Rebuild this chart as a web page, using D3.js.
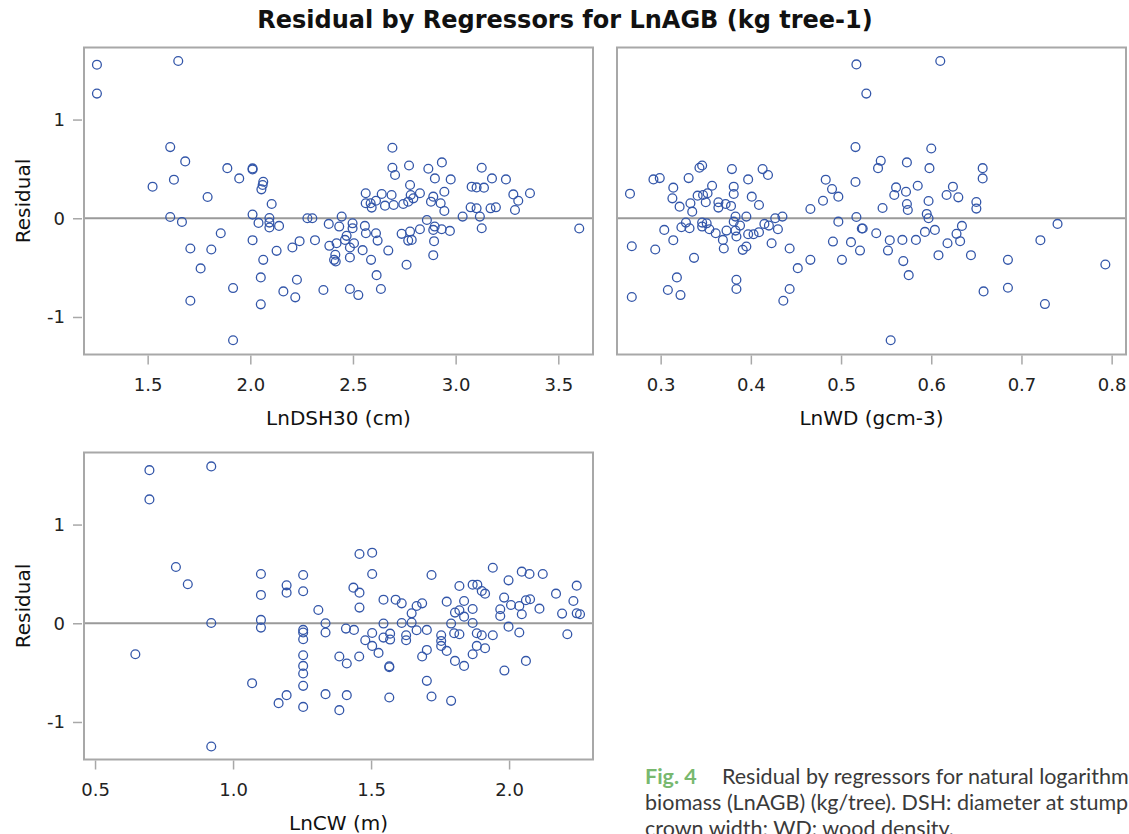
<!DOCTYPE html>
<html>
<head>
<meta charset="utf-8">
<script src="https://cdn.jsdelivr.net/npm/d3@7"></script>
<style>
  body { margin: 0; overflow: hidden; background: #fff; }
</style>
</head>
<body>
<div id="chart"></div>
<script>
// residual vs LnDSH30 (cm)
const dshPoints = [
  [1.253,1.556],[1.253,1.263],[1.649,1.593],[1.610,0.721],[1.683,0.576],[1.628,0.391],[1.524,0.320],
  [1.792,0.215],[1.610,0.013],[1.667,-0.037],[1.856,-0.152],[1.708,-0.306],[1.810,-0.316],[1.758,-0.508],
  [1.708,-0.835],[1.916,-0.707],[1.916,-1.236],[1.888,0.508],[1.946,0.404],[2.011,0.505],[2.011,0.495],
  [2.063,0.370],[2.060,0.337],[2.054,0.293],[2.104,0.145],[2.011,0.037],[2.040,-0.047],[2.093,0.003],
  [2.093,-0.044],[2.093,-0.094],[2.140,-0.077],[2.011,-0.222],[2.063,-0.421],[2.128,-0.330],[2.051,-0.599],
  [2.051,-0.872],[2.161,-0.741],[2.219,-0.801],[2.227,-0.623],[2.205,-0.296],[2.240,-0.232],[2.278,0.000],
  [2.302,0.000],[2.315,-0.222],[2.356,-0.727],[2.382,-0.057],[2.433,-0.084],[2.445,0.017],[2.385,-0.279],
  [2.420,-0.253],[2.414,-0.370],[2.408,-0.421],[2.416,-0.438],[2.461,-0.219],[2.469,-0.178],[2.485,-0.296],
  [2.485,-0.397],[2.485,-0.717],[2.526,-0.778],[2.498,-0.051],[2.498,-0.101],[2.505,-0.253],[2.547,-0.323],
  [2.558,-0.077],[2.563,-0.152],[2.588,-0.421],[2.612,-0.152],[2.615,-0.576],[2.636,-0.717],[2.620,-0.226],
  [2.672,-0.327],[2.562,0.253],[2.562,0.152],[2.586,0.152],[2.591,0.108],[2.612,0.178],[2.640,0.246],
  [2.656,0.128],[2.688,0.236],[2.698,0.135],[2.692,0.714],[2.692,0.512],[2.705,0.438],[2.773,0.535],
  [2.778,0.337],[2.781,0.236],[2.826,0.253],[2.769,0.168],[2.745,0.145],[2.794,0.202],[2.737,-0.158],
  [2.778,-0.135],[2.769,-0.226],[2.786,-0.219],[2.761,-0.471],[2.826,-0.111],[2.867,0.502],[2.899,0.404],
  [2.933,0.566],[2.976,0.394],[2.945,0.269],[2.891,0.219],[2.880,0.168],[2.927,0.152],[2.945,0.074],
  [2.860,-0.017],[2.898,-0.084],[2.891,-0.118],[2.932,-0.111],[2.972,-0.128],[2.895,-0.232],[2.891,-0.374],
  [3.034,0.017],[3.078,0.320],[3.102,0.313],[3.138,0.310],[3.127,0.512],[3.177,0.404],[3.245,0.394],
  [3.073,0.111],[3.102,0.101],[3.118,0.017],[3.127,-0.101],[3.170,0.101],[3.196,0.111],[3.281,0.242],
  [3.305,0.178],[3.289,0.084],[3.362,0.253],[3.602,-0.104]
];

// residual vs LnWD (gcm-3)
const wdPoints = [
  [0.517,1.559],[0.610,1.593],[0.528,1.263],[0.555,-1.236],[0.516,0.721],[0.600,0.707],[0.266,0.249],
  [0.268,-0.283],[0.268,-0.798],[0.292,0.394],[0.299,0.407],[0.314,0.310],[0.313,0.202],[0.321,0.118],
  [0.304,-0.118],[0.314,-0.222],[0.294,-0.316],[0.318,-0.599],[0.308,-0.727],[0.322,-0.778],[0.331,0.407],
  [0.343,0.512],[0.346,0.535],[0.333,0.152],[0.335,0.067],[0.341,0.229],[0.347,0.236],[0.352,0.253],
  [0.350,0.162],[0.357,0.330],[0.328,-0.044],[0.323,-0.091],[0.332,-0.101],[0.346,-0.044],[0.351,-0.051],
  [0.346,-0.084],[0.354,-0.111],[0.361,-0.152],[0.369,-0.219],[0.370,-0.306],[0.337,-0.401],[0.364,0.162],
  [0.364,0.108],[0.372,0.145],[0.378,0.125],[0.379,0.498],[0.381,0.320],[0.381,0.246],[0.383,0.017],
  [0.381,-0.034],[0.373,-0.125],[0.383,-0.125],[0.388,-0.074],[0.384,-0.185],[0.395,0.017],[0.397,-0.162],
  [0.403,-0.162],[0.409,-0.141],[0.391,-0.320],[0.395,-0.286],[0.384,-0.623],[0.384,-0.717],[0.397,0.394],
  [0.401,0.219],[0.409,0.135],[0.413,0.498],[0.419,0.438],[0.415,-0.057],[0.420,-0.074],[0.427,0.000],
  [0.430,-0.111],[0.435,0.017],[0.423,-0.253],[0.443,-0.306],[0.452,-0.505],[0.443,-0.717],[0.436,-0.835],
  [0.466,-0.421],[0.466,0.094],[0.480,0.178],[0.483,0.391],[0.490,0.296],[0.497,0.219],[0.497,-0.034],
  [0.491,-0.236],[0.501,-0.421],[0.511,-0.242],[0.521,-0.327],[0.516,0.367],[0.517,0.013],[0.523,-0.104],
  [0.524,-0.104],[0.539,-0.152],[0.541,0.508],[0.544,0.582],[0.546,0.104],[0.554,-0.222],[0.552,-0.327],
  [0.559,0.236],[0.561,0.313],[0.568,-0.219],[0.569,-0.434],[0.575,-0.576],[0.572,0.269],[0.573,0.145],
  [0.574,0.084],[0.573,0.566],[0.583,-0.219],[0.585,0.330],[0.593,-0.138],[0.595,0.044],[0.597,0.000],
  [0.597,0.175],[0.598,0.508],[0.604,-0.118],[0.608,-0.374],[0.617,0.236],[0.624,0.320],[0.630,0.212],
  [0.628,-0.158],[0.634,-0.077],[0.632,-0.232],[0.618,-0.253],[0.644,-0.374],[0.650,0.165],[0.650,0.098],
  [0.657,0.508],[0.657,0.404],[0.658,-0.741],[0.685,-0.421],[0.685,-0.704],[0.721,-0.222],[0.740,-0.057],
  [0.726,-0.869],[0.793,-0.468]
];

// residual vs LnCW (m)
const cwPoints = [
  [0.697,1.551],[0.697,1.255],[0.921,1.589],[0.921,-1.248],[0.921,0.003],[0.646,-0.314],[0.793,0.570],
  [0.836,0.395],[1.069,-0.607],[1.101,0.499],[1.101,0.287],[1.101,0.034],[1.101,-0.044],[1.194,0.384],
  [1.194,0.310],[1.165,-0.809],[1.194,-0.728],[1.254,0.489],[1.254,0.324],[1.254,-0.067],[1.254,-0.094],
  [1.254,-0.162],[1.254,-0.324],[1.254,-0.432],[1.254,-0.509],[1.254,-0.634],[1.254,-0.847],[1.309,0.135],
  [1.335,0.000],[1.335,-0.094],[1.385,-0.337],[1.412,-0.408],[1.335,-0.718],[1.412,-0.728],[1.385,-0.880],
  [1.409,-0.054],[1.438,-0.067],[1.458,0.702],[1.504,0.715],[1.504,0.499],[1.436,0.361],[1.458,0.310],
  [1.458,0.159],[1.457,-0.337],[1.479,-0.172],[1.504,-0.098],[1.504,-0.229],[1.527,-0.300],[1.545,0.239],
  [1.545,-0.003],[1.545,-0.145],[1.569,-0.105],[1.569,-0.165],[1.566,-0.435],[1.566,-0.445],[1.566,-0.752],
  [1.589,0.239],[1.611,0.202],[1.611,0.003],[1.627,-0.121],[1.627,-0.172],[1.647,0.101],[1.647,0.007],
  [1.665,0.175],[1.685,0.202],[1.665,-0.071],[1.702,-0.067],[1.685,-0.337],[1.702,-0.270],[1.702,-0.583],
  [1.719,-0.742],[1.719,0.489],[1.754,-0.121],[1.754,-0.179],[1.754,-0.229],[1.774,-0.280],[1.774,0.219],
  [1.790,-0.003],[1.790,-0.786],[1.801,-0.101],[1.820,-0.111],[1.804,0.108],[1.820,0.132],[1.837,0.226],
  [1.837,0.067],[1.804,-0.381],[1.837,-0.432],[1.820,0.378],[1.868,0.391],[1.885,0.391],[1.901,0.327],
  [1.913,0.300],[1.868,0.145],[1.868,0.003],[1.883,-0.101],[1.901,-0.121],[1.883,-0.229],[1.868,-0.314],
  [1.913,-0.253],[1.941,-0.121],[1.941,0.563],[1.998,0.435],[1.982,0.260],[1.968,0.142],[1.968,0.074],
  [2.007,0.185],[2.037,0.175],[2.046,0.091],[1.998,-0.034],[2.037,-0.094],[2.061,0.233],[2.076,0.243],
  [2.110,0.148],[2.046,0.523],[2.074,0.499],[2.122,0.499],[1.983,-0.479],[2.061,-0.381],[2.170,0.300],
  [2.233,0.226],[2.192,0.098],[2.211,-0.111],[2.245,0.381],[2.245,0.101],[2.257,0.091]
];

const dshTicks = [1.5, 2.0, 2.5, 3.0, 3.5];
const wdTicks = [0.3, 0.4, 0.5, 0.6, 0.7, 0.8];
const cwTicks = [0.5, 1.0, 1.5, 2.0];
const residualTicks = [-1, 0, 1];

const width = 1129;
const height = 834;
const frameColor = '#a8a8a8';
const markColor = '#3356a9';
const axisFont = 'DejaVu Sans, sans-serif';

let svg = d3.select('#chart').append('svg')
  .attr('width', width)
  .attr('height', height)
  .style('font-family', axisFont);

svg.append('text')
  .attr('x', 565)
  .attr('y', 28)
  .attr('text-anchor', 'middle')
  .style('font-weight', 'bold')
  .style('font-size', '24px')
  .attr('fill', '#111')
  .text('Residual by Regressors for LnAGB (kg tree-1)');

let panels = [
  {points: dshPoints, ticks: dshTicks, domain: [1.190, 3.669], title: 'LnDSH30 (cm)',
   left: 84, right: 593, top: 47.5, bottom: 354.5, yAxis: true},
  {points: wdPoints, ticks: wdTicks, domain: [0.2516, 0.8159], title: 'LnWD (gcm-3)',
   left: 617, right: 1126, top: 47.5, bottom: 354.5, yAxis: false},
  {points: cwPoints, ticks: cwTicks, domain: [0.460, 2.304], title: 'LnCW (m)',
   left: 84, right: 593, top: 452.5, bottom: 759.5, yAxis: true}
];

let styleAxis = (g, fontSize) => {
  g.select('.domain').remove();
  g.selectAll('.tick line').attr('stroke', frameColor).attr('stroke-width', 1.5);
  g.selectAll('.tick text')
    .attr('fill', '#222')
    .style('font-size', fontSize)
    .style('font-family', axisFont);
};

panels.forEach(p => {
  let x = d3.scaleLinear().domain(p.domain).range([p.left, p.right]);
  let y = d3.scaleLinear().domain([-1.38, 1.73]).range([p.bottom, p.top]);

  // reference line at zero
  svg.append('line')
    .attr('x1', p.left).attr('x2', p.right)
    .attr('y1', y(0)).attr('y2', y(0))
    .attr('stroke', '#9a9a9a')
    .attr('stroke-width', 2);

  svg.append('g')
    .selectAll('circle').data(p.points)
    .enter().append('circle')
      .attr('cx', d => x(d[0]))
      .attr('cy', d => y(d[1]))
      .attr('r', 4.4)
      .attr('fill', 'none')
      .attr('stroke', markColor)
      .attr('stroke-width', 1.3);

  svg.append('rect')
    .attr('x', p.left).attr('y', p.top)
    .attr('width', p.right - p.left)
    .attr('height', p.bottom - p.top)
    .attr('fill', 'none')
    .attr('stroke', frameColor)
    .attr('stroke-width', 2);

  svg.append('g')
    .attr('transform', `translate(0,${p.bottom + 1})`)
    .call(d3.axisBottom(x).tickValues(p.ticks).tickFormat(d3.format('.1f'))
      .tickSizeInner(9).tickSizeOuter(0).tickPadding(14))
    .call(g => styleAxis(g, '18px'));

  svg.append('text')
    .attr('x', (p.left + p.right) / 2)
    .attr('y', p.bottom + 70)
    .attr('text-anchor', 'middle')
    .style('font-size', '20px')
    .attr('fill', '#111')
    .text(p.title);

  if (p.yAxis) {
    svg.append('g')
      .attr('transform', `translate(${p.left - 2},0)`)
      .call(d3.axisLeft(y).tickValues(residualTicks).tickFormat(d => String(d))
        .tickSizeInner(9).tickSizeOuter(0).tickPadding(8))
      .call(g => styleAxis(g, '18px'));

    svg.append('text')
      .attr('transform', `translate(30,${(p.top + p.bottom) / 2}) rotate(-90)`)
      .attr('text-anchor', 'middle')
      .style('font-size', '20px')
      .attr('fill', '#111')
      .text('Residual');
  }
});

// figure caption; the source image crops it at the right and bottom edges
let caption = svg.append('text')
  .attr('x', 645)
  .style('font-family', 'Lato, sans-serif')
  .style('font-size', '21.5px')
  .attr('fill', '#3a3a3a');

let line1 = caption.append('tspan').attr('x', 645).attr('y', 784);
line1.append('tspan').attr('fill', '#78b86f').style('font-weight', 'bold').text('Fig. 4');
line1.append('tspan').attr('x', 722).text('Residual by regressors for natural logarithm');
caption.append('tspan').attr('x', 645).attr('y', 810)
  .text('biomass (LnAGB) (kg/tree). DSH: diameter at stump');
caption.append('tspan').attr('x', 645).attr('y', 836)
  .text('crown width; WD: wood density.');
</script>
</body>
</html>
